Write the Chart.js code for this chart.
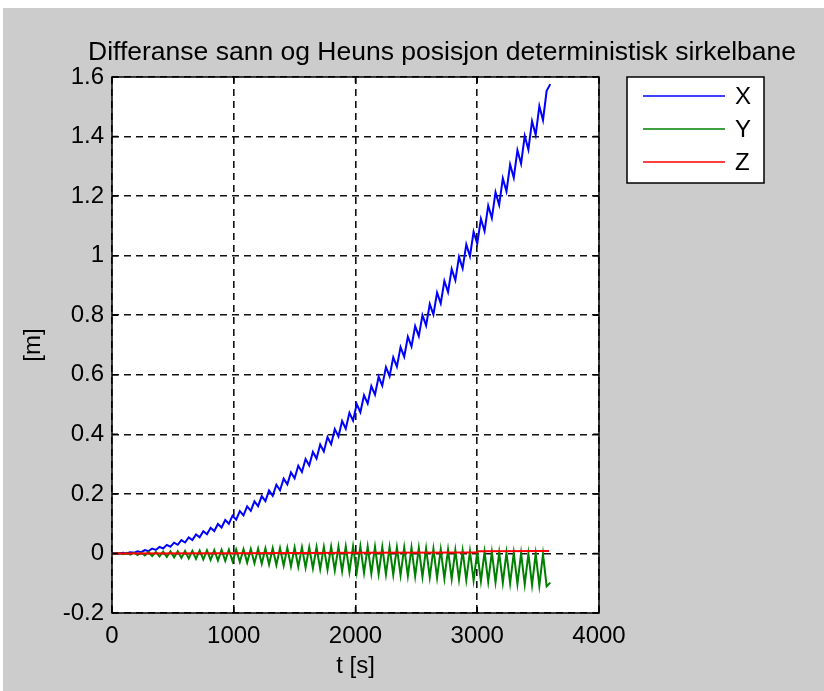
<!DOCTYPE html>
<html lang="en">
  <head>
    <meta charset="UTF-8" />
    <title>Differanse sann og Heuns posisjon</title>
    <script src="https://cdn.jsdelivr.net/npm/chart.js"></script>
    <style>
      html, body { margin: 0; padding: 0; background: #fff; }
      #wrap { position: absolute; left: 3px; top: 8px; width: 821px; height: 683px; background: #cccccc; }
    </style>
  </head>
  <body>
    <div id="wrap"><canvas id="posChart"></canvas></div>

    <script>
      // time axis [s], one sample every 30 s (peaks/troughs)
      const timeS = [
        0, 30, 60, 90, 120, 150, 180, 210, 240, 270,
        300, 330, 360, 390, 420, 450, 480, 510, 540, 570,
        600, 630, 660, 690, 720, 750, 780, 810, 840, 870,
        900, 930, 960, 990, 1020, 1050, 1080, 1110, 1140, 1170,
        1200, 1230, 1260, 1290, 1320, 1350, 1380, 1410, 1440, 1470,
        1500, 1530, 1560, 1590, 1620, 1650, 1680, 1710, 1740, 1770,
        1800, 1830, 1860, 1890, 1920, 1950, 1980, 2010, 2040, 2070,
        2100, 2130, 2160, 2190, 2220, 2250, 2280, 2310, 2340, 2370,
        2400, 2430, 2460, 2490, 2520, 2550, 2580, 2610, 2640, 2670,
        2700, 2730, 2760, 2790, 2820, 2850, 2880, 2910, 2940, 2970,
        3000, 3030, 3060, 3090, 3120, 3150, 3180, 3210, 3240, 3270,
        3300, 3330, 3360, 3390, 3420, 3450, 3480, 3510, 3540, 3570,
        3600
      ];

      // X error [m]
      const errX = [
        0.0000, 0.0004, -0.0002, 0.0019, 0.0005, 0.0042, 0.0020, 0.0074, 0.0044, 0.0115,
        0.0076, 0.0164, 0.0117, 0.0221, 0.0167, 0.0287, 0.0225, 0.0362, 0.0291, 0.0445,
        0.0367, 0.0537, 0.0450, 0.0638, 0.0543, 0.0747, 0.0644, 0.0864, 0.0753, 0.0990,
        0.0871, 0.1125, 0.0998, 0.1268, 0.1133, 0.1420, 0.1277, 0.1581, 0.1429, 0.1750,
        0.1590, 0.1927, 0.1759, 0.2113, 0.1938, 0.2308, 0.2124, 0.2511, 0.2319, 0.2723,
        0.2523, 0.2943, 0.2735, 0.3172, 0.2956, 0.3410, 0.3186, 0.3656, 0.3424, 0.3910,
        0.3670, 0.4174, 0.3925, 0.4446, 0.4189, 0.4726, 0.4461, 0.5015, 0.4742, 0.5312,
        0.5032, 0.5618, 0.5330, 0.5933, 0.5636, 0.6256, 0.5951, 0.6588, 0.6275, 0.6928,
        0.6607, 0.7277, 0.6948, 0.7635, 0.7297, 0.8001, 0.7655, 0.8375, 0.8022, 0.8758,
        0.8397, 0.9150, 0.8781, 0.9551, 0.9173, 0.9959, 0.9574, 1.0377, 0.9983, 1.0803,
        1.0401, 1.1237, 1.0828, 1.1681, 1.1263, 1.2132, 1.1706, 1.2593, 1.2159, 1.3061,
        1.2619, 1.3539, 1.3089, 1.4025, 1.3566, 1.4519, 1.4053, 1.5022, 1.4548, 1.5534,
        1.5760
      ];

      // Y error [m]
      const errY = [
        0.0000, -0.0008, 0.0008, -0.0023, 0.0017, -0.0039, 0.0025, -0.0055, 0.0034, -0.0070,
        0.0042, -0.0086, 0.0050, -0.0101, 0.0059, -0.0117, 0.0067, -0.0133, 0.0075, -0.0150,
        0.0082, -0.0166, 0.0089, -0.0183, 0.0096, -0.0200, 0.0104, -0.0217, 0.0111, -0.0234,
        0.0118, -0.0250, 0.0125, -0.0267, 0.0133, -0.0287, 0.0141, -0.0307, 0.0150, -0.0328,
        0.0158, -0.0348, 0.0166, -0.0369, 0.0175, -0.0389, 0.0183, -0.0409, 0.0192, -0.0430,
        0.0200, -0.0452, 0.0205, -0.0476, 0.0210, -0.0500, 0.0214, -0.0524, 0.0219, -0.0548,
        0.0224, -0.0572, 0.0229, -0.0596, 0.0234, -0.0620, 0.0238, -0.0643, 0.0236, -0.0658,
        0.0230, -0.0674, 0.0224, -0.0689, 0.0218, -0.0705, 0.0212, -0.0721, 0.0206, -0.0736,
        0.0200, -0.0752, 0.0194, -0.0767, 0.0185, -0.0785, 0.0169, -0.0803, 0.0154, -0.0821,
        0.0138, -0.0839, 0.0122, -0.0857, 0.0107, -0.0875, 0.0091, -0.0893, 0.0076, -0.0911,
        0.0060, -0.0930, 0.0051, -0.0949, 0.0042, -0.0968, 0.0033, -0.0987, 0.0024, -0.1006,
        0.0015, -0.1025, 0.0006, -0.1044, -0.0003, -0.1063, -0.0012, -0.1082, -0.0021, -0.1101,
        -0.0980
      ];

      // Z error [m], almost flat
      const timeZ = [0, 1000, 2000, 2990, 3010, 3590];
      const errZ = [0.0, 0.001, 0.002, 0.003, 0.007, 0.008];

      const seriesNames = ["X", "Y", "Z"];
      const xTicks = [0, 1000, 2000, 3000, 4000];
      const xTickLabels = ["0", "1000", "2000", "3000", "4000"];
      const yTicks = [-0.2, 0, 0.2, 0.4, 0.6, 0.8, 1.0, 1.2, 1.4, 1.6];
      const yTickLabels = ["-0.2", "0", "0.2", "0.4", "0.6", "0.8", "1", "1.2", "1.4", "1.6"];

      const FONT = "'Liberation Sans', Arial, sans-serif";
      const colors = ["#0000ff", "#008000", "#ff0000"];

      const toPoints = (ts, vs) => ts.map((t, i) => ({ x: t, y: vs[i] }));

      // white axes background, MATLAB style box + inner ticks, title and legend
      const matlabFrame = {
        id: "matlabFrame",
        beforeDraw(chart) {
          const { ctx, chartArea: a } = chart;
          ctx.save();
          ctx.fillStyle = "#fff";
          ctx.fillRect(a.left, a.top, a.right - a.left, a.bottom - a.top);
          ctx.restore();
        },
        afterDatasetsDraw(chart) {
          const { ctx, chartArea: a, scales } = chart;
          ctx.save();
          ctx.strokeStyle = "#000";
          ctx.lineWidth = 1.5;
          ctx.beginPath();
          const tl = 6;
          xTicks.forEach((v) => {
            const px = scales.x.getPixelForValue(v);
            ctx.moveTo(px, a.bottom); ctx.lineTo(px, a.bottom - tl);
            ctx.moveTo(px, a.top); ctx.lineTo(px, a.top + tl);
          });
          yTicks.forEach((v) => {
            const py = scales.y.getPixelForValue(v);
            ctx.moveTo(a.left, py); ctx.lineTo(a.left + tl, py);
            ctx.moveTo(a.right, py); ctx.lineTo(a.right - tl, py);
          });
          ctx.stroke();
          ctx.strokeRect(a.left, a.top, a.right - a.left, a.bottom - a.top);
          ctx.restore();
        },
        afterDraw(chart) {
          const { ctx, chartArea: a } = chart;
          ctx.save();
          // title
          ctx.fillStyle = "#000";
          ctx.font = "26.5px " + FONT;
          ctx.textAlign = "center";
          ctx.textBaseline = "alphabetic";
          ctx.fillText("Differanse sann og Heuns posisjon deterministisk sirkelbane", 439, 52);

          // legend box
          const bx = a.right + 28, by = a.top, bw = 137, bh = 106;
          ctx.fillStyle = "#fff";
          ctx.fillRect(bx, by, bw, bh);
          ctx.strokeStyle = "#000";
          ctx.lineWidth = 1.5;
          ctx.strokeRect(bx, by, bw, bh);
          const rows = [19, 52, 85];
          ctx.font = "24px " + FONT;
          ctx.textAlign = "left";
          ctx.textBaseline = "middle";
          chart.data.datasets.forEach((ds, i) => {
            const y = by + rows[i];
            ctx.strokeStyle = ds.borderColor;
            ctx.lineWidth = 1.3;
            ctx.beginPath();
            ctx.moveTo(bx + 16, y);
            ctx.lineTo(bx + 98, y);
            ctx.stroke();
            ctx.fillStyle = "#000";
            ctx.fillText(ds.label, bx + 108, y + 1);
          });
          ctx.restore();
        },
      };

      const gridStyle = { color: "#111", lineWidth: 1.6, drawTicks: false, tickLength: 0 };

      new Chart(document.getElementById("posChart"), {
        type: "line",
        data: {
          datasets: [
            { label: seriesNames[0], data: toPoints(timeS, errX), borderColor: colors[0], order: 3 },
            { label: seriesNames[1], data: toPoints(timeS, errY), borderColor: colors[1], order: 2 },
            { label: seriesNames[2], data: toPoints(timeZ, errZ), borderColor: colors[2], order: 1 },
          ],
        },
        options: {
          responsive: true,
          maintainAspectRatio: false,
          animation: false,
          devicePixelRatio: 1,
          parsing: false,
          elements: {
            line: { borderWidth: 2, tension: 0, fill: false },
            point: { radius: 0 },
          },
          layout: { padding: { top: 69, right: 225, bottom: 0, left: 0 } },
          plugins: {
            legend: { display: false },
            tooltip: { enabled: false },
            title: { display: false },
          },
          scales: {
            x: {
              type: "linear",
              min: 0,
              max: 4000,
              afterBuildTicks: (s) => { s.ticks = xTicks.map((v) => ({ value: v })); },
              afterFit: (s) => { s.height = 78; },
              grid: gridStyle,
              border: { display: false, dash: [7, 5] },
              ticks: {
                callback: (v, i) => xTickLabels[i],
                color: "#000",
                font: { family: FONT, size: 24 },
                padding: 9,
                maxRotation: 0,
                autoSkip: false,
              },
              title: {
                display: true,
                text: "t [s]",
                color: "#000",
                font: { family: FONT, size: 24 },
                padding: { top: 0, bottom: 10 },
              },
            },
            y: {
              min: -0.2,
              max: 1.6,
              afterBuildTicks: (s) => { s.ticks = yTicks.map((v) => ({ value: v })); },
              afterFit: (s) => { s.width = 109; },
              grid: gridStyle,
              border: { display: false, dash: [7, 5] },
              ticks: {
                callback: (v, i) => yTickLabels[i],
                color: "#000",
                font: { family: FONT, size: 24 },
                padding: 8,
                autoSkip: false,
              },
              title: {
                display: true,
                text: "[m]",
                color: "#000",
                font: { family: FONT, size: 24 },
                padding: { top: 16, bottom: 0 },
              },
            },
          },
        },
        plugins: [matlabFrame],
      });
    </script>
  </body>
</html>
